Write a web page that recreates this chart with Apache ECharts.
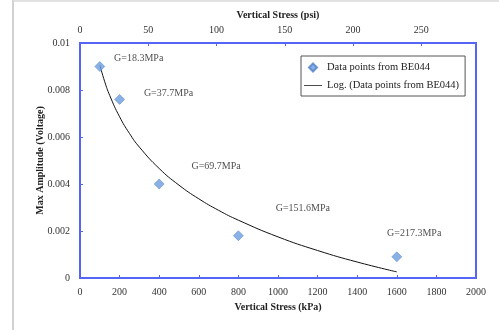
<!DOCTYPE html>
<html>
<head>
<meta charset="utf-8">
<script src="https://cdn.jsdelivr.net/npm/echarts@6/dist/echarts.min.js"></script>
<style>
  html, body { margin: 0; padding: 0; background: #fff; }
  #chart { width: 499px; height: 330px; }
</style>
</head>
<body>
<div id="chart"></div>
<script>
// measured points (kPa, V) and shear modulus label for each
const stressKPa = [100, 200, 400, 800, 1600]
const amplitude = [0.009, 0.0076, 0.004, 0.0018, 0.0009]
const shearMPa = [18.3, 37.7, 69.7, 151.6, 217.3]

// log trendline
const trendKPa = [100, 125, 150, 200, 250, 300, 400, 500, 600, 700, 800, 1000, 1200, 1400, 1600]
const trendAmp = [0.00906, 0.00835, 0.00777, 0.00686, 0.00615, 0.00557, 0.00466, 0.00395, 0.00337, 0.00288, 0.00246, 0.00175, 0.00117, 0.00068, 0.00026]

const labelOffsets = [[9, -8], [19, -6], [27, -18], [32, -27], [-15, -23]]

const KPA_PER_PSI = 6.894757
const serif = '"Liberation Serif", "Times New Roman", serif'
const frameBlue = '#5566f6'

const chart = echarts.init(document.getElementById('chart'))

const axisLabel = { fontFamily: serif, fontSize: 10, color: '#333', formatter: v => String(+v.toFixed(3)) }
const nameStyle = { fontFamily: serif, fontSize: 10, fontWeight: 'bold', color: '#222' }

const option = {
  animation: false,
  grid: {
    left: 80, right: 23, top: 43, bottom: 52,
    show: true, borderColor: frameBlue, borderWidth: 2, backgroundColor: 'transparent'
  },
  graphic: [
    { type: 'line', shape: { x1: 13, y1: 0, x2: 13, y2: 330 }, style: { stroke: '#d2d2d2', lineWidth: 2 } },
    { type: 'line', shape: { x1: 13, y1: 1, x2: 499, y2: 1 }, style: { stroke: '#d8d8d8', lineWidth: 1.5 } }
  ],
  legend: {
    orient: 'vertical',
    left: 301, top: 56,
    padding: [6, 6, 5, 3],
    itemGap: 7,
    itemWidth: 18, itemHeight: 8,
    symbolKeepAspect: true,
    borderColor: '#555', borderWidth: 1,
    backgroundColor: '#fff',
    textStyle: { fontFamily: serif, fontSize: 10.5, color: '#222' },
    data: [
      { name: 'Data points from BE044', icon: 'path://M5,0L10,5L5,10L0,5Z' },
      { name: 'Log. (Data points from BE044)', icon: 'path://M0,0H24V1H0Z', itemStyle: { color: '#111' } }
    ]
  },
  xAxis: [
    {
      type: 'value', position: 'bottom',
      min: 0, max: 2000, interval: 200,
      name: 'Vertical Stress (kPa)', nameLocation: 'middle', nameGap: 24, nameMoveOverlap: false,
      nameTextStyle: nameStyle,
      axisLine: { show: false },
      axisTick: { inside: true, length: 3, lineStyle: { color: frameBlue } },
      axisLabel: { ...axisLabel, margin: 9 },
      splitLine: { show: false }
    },
    {
      type: 'value', position: 'top',
      min: 0, max: 2000 / KPA_PER_PSI, interval: 50,
      name: 'Vertical Stress (psi)', nameLocation: 'middle', nameGap: 23, nameMoveOverlap: false,
      nameTextStyle: nameStyle,
      axisLine: { show: false },
      axisTick: { inside: true, length: 3, lineStyle: { color: frameBlue } },
      axisLabel: { ...axisLabel, margin: 8, showMaxLabel: false },
      splitLine: { show: false }
    }
  ],
  yAxis: {
    type: 'value',
    min: 0, max: 0.01, interval: 0.002,
    name: 'Max Amplitude (Voltage)', nameLocation: 'middle', nameGap: 35, nameRotate: 90, nameMoveOverlap: false,
    nameTextStyle: nameStyle,
    axisLine: { show: false },
    axisTick: { inside: true, length: 3, lineStyle: { color: frameBlue } },
    axisLabel: { ...axisLabel, margin: 10 },
    splitLine: { show: false }
  },
  series: [
    {
      name: 'Log. (Data points from BE044)',
      type: 'line',
      xAxisIndex: 0,
      data: trendKPa.map((x, i) => [x, trendAmp[i]]),
      smooth: true,
      symbol: 'none',
      lineStyle: { color: '#111', width: 1 },
      itemStyle: { color: '#111' },
      z: 2
    },
    {
      name: 'Data points from BE044',
      type: 'scatter',
      xAxisIndex: 0,
      symbol: 'diamond',
      symbolSize: 10,
      itemStyle: { color: '#6c9de0', borderColor: '#4f7fc6', borderWidth: 0.6 },
      data: stressKPa.map((x, i) => ({
        value: [x, amplitude[i]],
        label: {
          show: true,
          position: 'right',
          distance: 0,
          offset: labelOffsets[i],
          formatter: 'G=' + shearMPa[i] + 'MPa'
        }
      })),
      label: { fontFamily: serif, fontSize: 10, color: '#222' },
      z: 3
    }
  ]
}

chart.setOption(option)
window.addEventListener('resize', () => chart.resize())
</script>
</body>
</html>
